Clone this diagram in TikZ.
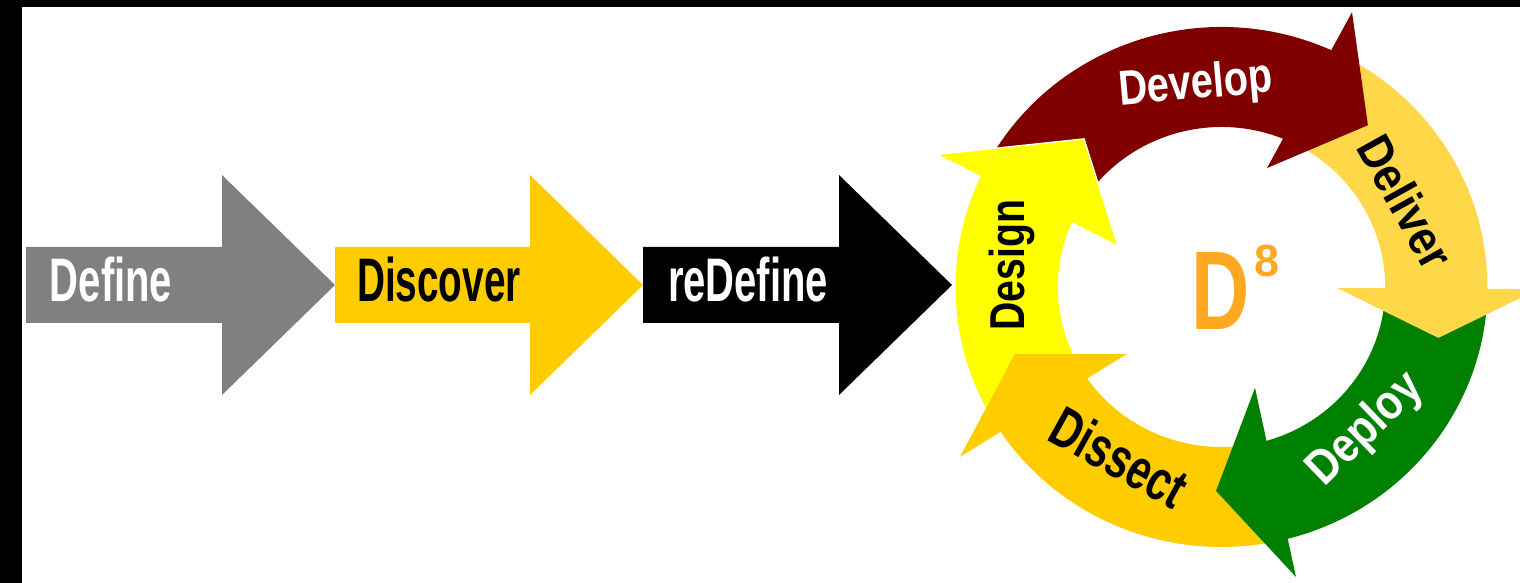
\documentclass[tikz,border=0pt]{standalone}
\usepackage{fontspec}
\setmainfont{Liberation Sans}
\definecolor{cgray}{HTML}{808080}
\definecolor{cgold}{HTML}{FFCC00}
\definecolor{cdesign}{HTML}{FFFF00}
\definecolor{cdevelop}{HTML}{800000}
\definecolor{cdeliver}{HTML}{FFD84A}
\definecolor{cdeploy}{HTML}{008000}
\definecolor{cdissect}{HTML}{FFCC00}
\definecolor{corange}{HTML}{FFA822}
\begin{document}
\begin{tikzpicture}[x=1pt,y=1pt,
  biglbl/.style={inner sep=0pt, font=\fontsize{61.5}{70}\selectfont\bfseries},
  ringlbl/.style={inner sep=0pt, font=\fontsize{49}{56}\selectfont\bfseries},
  whiteedge/.style={draw=white, line width=1.3pt, line join=miter}]
\useasboundingbox (0,0) rectangle (1520,583);
% frame edges
\fill[black] (0,0) rectangle (22,583);
\fill[black] (0,576) rectangle (1520,583);
% block arrows
\fill[cgray] (26,260) -- (26,336) -- (222,336) -- (222,408) -- (335,298) -- (222,188) -- (222,260) -- cycle;
\fill[cgold] (335,260) -- (335,336) -- (530,336) -- (530,408) -- (643,298) -- (530,188) -- (530,260) -- cycle;
\fill[black] (643,260) -- (643,336) -- (839,336) -- (839,408) -- (952,298) -- (839,188) -- (839,260) -- cycle;
\node[biglbl, text=white, anchor=base] (tdefine) at (111,281) {\scalebox{0.65}[1]{Define}};
\node[biglbl, text=black, anchor=base] (tdiscover) at (439,281) {\scalebox{0.63}[1]{Discover}};
\node[biglbl, text=white, anchor=base] (tredefine) at (748,281) {\scalebox{0.65}[1]{reDefine}};
% cycle
\begin{scope}[shift={(1221.5,296)}, xscale=1.023]
  % bodies
  \fill[cdesign] (213:160) -- (213:260) arc[start angle=213, end angle=154, radius=260] -- (154:160) arc[start angle=154, end angle=213, radius=160] -- cycle;
  \fill[cdevelop] (154:160) -- (154:260) arc[start angle=154, end angle=64.5, radius=260] -- (64.5:160) arc[start angle=64.5, end angle=154, radius=160] -- cycle;
  \fill[cdeliver] (64.5:160) -- (64.5:260) arc[start angle=64.5, end angle=-1, radius=260] -- (-1:160) arc[start angle=-1, end angle=64.5, radius=160] -- cycle;
  \fill[cdeploy] (-1:160) -- (-1:260) arc[start angle=-1, end angle=-76.5, radius=260] -- (-76.5:160) arc[start angle=-76.5, end angle=-1, radius=160] -- cycle;
  \fill[cdissect] (-76.5:160) -- (-76.5:260) arc[start angle=-76.5, end angle=-147, radius=260] -- (-147:160) arc[start angle=-147, end angle=-76.5, radius=160] -- cycle;
  % heads
  \fill[cdevelop] (65.1:303) -- (48.5:216) -- (69.5:127) -- cycle;
  \fill[cdeliver] (-0.4:310) -- (-13.5:218) -- (-0.5:113) -- cycle;
  \fill[cdeploy] (-75.9:299) -- (-91.5:204) -- (-72:106) -- cycle;
  \fill[cdissect] (213.6:307) -- (198.4:213) -- (215.9:114) -- cycle;
  \fill[cdesign] (154.4:307) -- (132.2:200) -- (157.6:110) -- cycle;
  \draw[whiteedge] (154.4:307) -- (132.2:200) -- (157.6:110);
\end{scope}
% ring labels
\node[ringlbl, text=white, rotate=5] (tdevelop) at (1196,497) {\scalebox{0.81}[1]{Develop}};
\node[ringlbl, text=black, rotate=-61] (tdeliver) at (1406,381) {\scalebox{0.88}[1]{Deliver}};
\node[ringlbl, text=white, rotate=44] (tdeploy) at (1366,153) {\scalebox{0.86}[1]{Deploy}};
\node[inner sep=0pt, text=black, rotate=-29, font=\fontsize{57}{64}\selectfont\bfseries] (tdissect) at (1119,126) {\scalebox{0.72}[1]{Dissect}};
\node[ringlbl, text=black, rotate=90] (tdesign) at (1012,318) {\scalebox{0.8}[1]{Design}};
% centre
\node[inner sep=0pt, text=corange, anchor=base, font=\fontsize{112}{120}\selectfont\bfseries] (dee) at (1220.5,253) {\scalebox{0.72}[1]{D}};
\node[inner sep=0pt, text=corange, anchor=base, font=\fontsize{45}{50}\selectfont\bfseries] (eight) at (1266.5,306) {8};
\end{tikzpicture}
\end{document}
